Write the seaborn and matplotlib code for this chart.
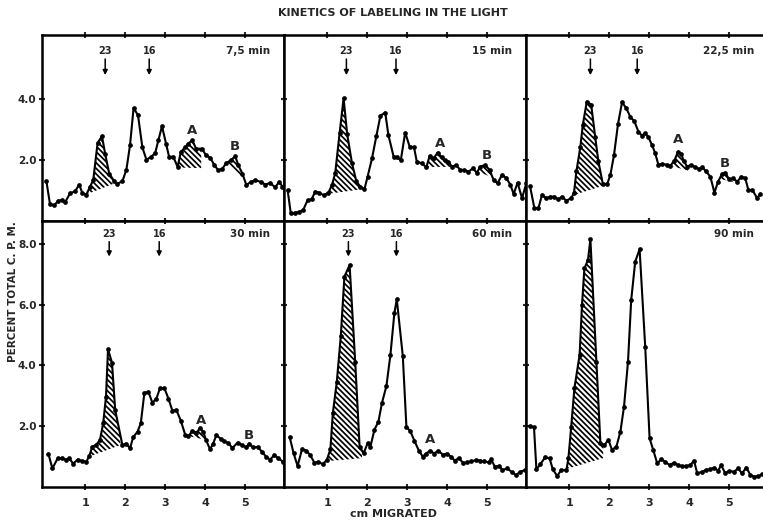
import numpy as np
import pandas as pd
import matplotlib
matplotlib.use("Agg")
import matplotlib.pyplot as plt
import seaborn as sns

# ---------------- data (cm migrated, percent total c.p.m.) ----------------
x_7_5 = [0.03, 0.12, 0.22, 0.33, 0.41, 0.50, 0.62, 0.75, 0.85, 0.93, 1.03, 1.12, 1.20, 1.31, 1.42,
         1.50, 1.60, 1.73, 1.80, 1.93, 2.03, 2.12, 2.21, 2.32, 2.43, 2.53, 2.64, 2.75, 2.83, 2.92,
         3.02, 3.10, 3.20, 3.31, 3.39, 3.50, 3.58, 3.68, 3.77, 3.92, 4.02, 4.13, 4.23, 4.33, 4.43,
         4.52, 4.64, 4.75, 4.83, 4.93, 5.03, 5.14, 5.25, 5.39, 5.50, 5.62, 5.75, 5.85, 5.93]
y_7_5 = [1.31, 0.55, 0.52, 0.66, 0.69, 0.62, 0.91, 0.98, 1.20, 0.91, 0.87, 1.13, 1.34, 2.57, 2.79,
         2.20, 1.56, 1.30, 1.22, 1.31, 1.69, 2.49, 3.72, 3.48, 2.42, 2.02, 2.10, 2.24, 2.66, 3.12,
         2.55, 2.10, 2.12, 1.78, 2.27, 2.43, 2.55, 2.66, 2.38, 2.38, 2.16, 2.08, 1.83, 1.67, 1.72,
         1.90, 2.00, 2.13, 1.83, 1.56, 1.18, 1.29, 1.34, 1.29, 1.20, 1.25, 1.11, 1.29, 1.13]

x_15 = [0.01, 0.09, 0.19, 0.29, 0.40, 0.51, 0.61, 0.70, 0.80, 0.91, 1.03, 1.12, 1.20, 1.31, 1.41,
        1.50, 1.62, 1.73, 1.83, 1.93, 2.01, 2.12, 2.23, 2.33, 2.45, 2.53, 2.66, 2.74, 2.84, 2.95,
        3.06, 3.17, 3.24, 3.36, 3.48, 3.56, 3.66, 3.76, 3.86, 3.94, 4.03, 4.12, 4.22, 4.33, 4.43,
        4.53, 4.64, 4.74, 4.83, 4.95, 5.06, 5.16, 5.26, 5.37, 5.48, 5.58, 5.66, 5.76, 5.87, 5.98]
y_15 = [1.02, 0.25, 0.27, 0.30, 0.36, 0.69, 0.71, 0.97, 0.93, 0.85, 0.93, 1.19, 1.57, 2.89, 4.04,
        2.85, 1.90, 1.30, 1.13, 1.04, 1.46, 2.06, 2.80, 3.46, 3.57, 2.83, 2.12, 2.10, 2.00, 2.91,
        2.45, 2.43, 1.95, 1.90, 1.77, 2.14, 2.06, 2.25, 2.10, 2.01, 1.95, 1.79, 1.84, 1.68, 1.68,
        1.62, 1.73, 1.59, 1.79, 1.84, 1.68, 1.35, 1.24, 1.52, 1.41, 1.19, 0.89, 1.26, 0.75, 1.25]

x_22_5 = [0.02, 0.13, 0.23, 0.32, 0.42, 0.53, 0.62, 0.72, 0.82, 0.93, 1.05, 1.12, 1.18, 1.28, 1.34,
          1.44, 1.55, 1.65, 1.73, 1.84, 1.95, 2.03, 2.12, 2.22, 2.32, 2.42, 2.53, 2.63, 2.73, 2.82,
          2.90, 2.98, 3.07, 3.15, 3.23, 3.33, 3.44, 3.52, 3.63, 3.72, 3.80, 3.87, 3.95, 4.05, 4.15,
          4.25, 4.33, 4.42, 4.53, 4.63, 4.72, 4.82, 4.90, 5.00, 5.10, 5.20, 5.30, 5.40, 5.48, 5.58,
          5.70, 5.78]
y_22_5 = [1.15, 0.42, 0.42, 0.86, 0.75, 0.80, 0.80, 0.71, 0.80, 0.67, 0.75, 0.93, 1.63, 2.45, 3.16,
          3.93, 3.83, 2.76, 1.96, 1.22, 1.22, 1.52, 2.17, 3.19, 3.90, 3.73, 3.42, 3.28, 2.94, 2.81,
          2.89, 2.76, 2.50, 2.23, 1.85, 1.88, 1.85, 1.80, 1.99, 2.28, 2.20, 1.96, 1.79, 1.85, 1.77,
          1.71, 1.77, 1.63, 1.46, 0.93, 1.29, 1.55, 1.59, 1.37, 1.41, 1.29, 1.46, 1.41, 1.02, 1.02,
          0.75, 0.90]

x_30 = [0.08, 0.18, 0.31, 0.42, 0.52, 0.60, 0.70, 0.81, 0.92, 1.03, 1.10, 1.18, 1.27, 1.37, 1.45,
        1.52, 1.57, 1.67, 1.75, 1.93, 2.03, 2.12, 2.20, 2.31, 2.39, 2.48, 2.58, 2.68, 2.78, 2.87,
        2.98, 3.08, 3.18, 3.28, 3.39, 3.50, 3.58, 3.68, 3.78, 3.87, 3.95, 4.02, 4.12, 4.20, 4.28,
        4.39, 4.47, 4.58, 4.68, 4.81, 4.92, 5.03, 5.10, 5.20, 5.31, 5.42, 5.52, 5.62, 5.73, 5.83,
        5.95]
y_30 = [1.09, 0.61, 0.94, 0.94, 0.90, 0.94, 0.77, 0.90, 0.86, 0.83, 1.02, 1.33, 1.38, 1.55, 2.10,
        2.97, 4.53, 4.09, 2.53, 1.38, 1.43, 1.27, 1.64, 1.82, 2.10, 3.10, 3.13, 2.77, 2.91, 3.25,
        3.25, 2.91, 2.51, 2.53, 2.18, 1.72, 1.67, 1.85, 1.79, 1.93, 1.82, 1.55, 1.24, 1.43, 1.71,
        1.58, 1.50, 1.45, 1.28, 1.46, 1.38, 1.30, 1.43, 1.30, 1.32, 1.16, 1.00, 0.90, 1.05, 0.94,
        0.83]

x_60 = [0.06, 0.16, 0.26, 0.37, 0.47, 0.57, 0.68, 0.78, 0.89, 0.99, 1.08, 1.14, 1.24, 1.34, 1.43,
        1.56, 1.70, 1.81, 1.91, 2.01, 2.08, 2.18, 2.28, 2.37, 2.48, 2.58, 2.68, 2.74, 2.89, 2.98,
        3.08, 3.18, 3.29, 3.39, 3.47, 3.58, 3.67, 3.78, 3.89, 3.99, 4.09, 4.19, 4.29, 4.40, 4.50,
        4.60, 4.73, 4.83, 4.93, 5.04, 5.10, 5.19, 5.30, 5.38, 5.50, 5.61, 5.72, 5.82, 5.95]
y_60 = [1.65, 1.11, 0.69, 1.24, 1.20, 1.06, 0.80, 0.83, 0.75, 0.89, 1.24, 2.42, 3.46, 4.97, 6.92,
        7.30, 4.12, 1.33, 1.11, 1.44, 1.32, 1.88, 2.15, 2.77, 3.32, 4.34, 5.73, 6.17, 4.31, 1.98,
        1.83, 1.52, 1.20, 1.00, 1.10, 1.20, 1.10, 1.20, 1.06, 1.10, 1.00, 0.87, 0.95, 0.79, 0.81,
        0.84, 0.89, 0.87, 0.84, 0.81, 0.91, 0.67, 0.69, 0.56, 0.61, 0.50, 0.39, 0.50, 0.56]

x_90 = [0.03, 0.12, 0.18, 0.28, 0.40, 0.51, 0.59, 0.70, 0.80, 0.93, 0.98, 1.05, 1.13, 1.26, 1.32,
        1.38, 1.47, 1.53, 1.68, 1.78, 1.88, 1.98, 2.07, 2.18, 2.28, 2.37, 2.47, 2.55, 2.65, 2.76,
        2.90, 3.01, 3.10, 3.20, 3.30, 3.40, 3.51, 3.62, 3.72, 3.82, 3.93, 4.03, 4.12, 4.20, 4.32,
        4.42, 4.53, 4.63, 4.72, 4.80, 4.90, 5.00, 5.12, 5.22, 5.32, 5.43, 5.53, 5.63, 5.73, 5.83]
y_90 = [2.00, 1.96, 0.58, 0.75, 0.98, 0.94, 0.58, 0.36, 0.56, 0.56, 0.94, 1.98, 3.25, 4.34, 5.99,
        7.19, 7.47, 8.15, 4.12, 1.44, 1.38, 1.55, 1.22, 1.33, 1.82, 2.64, 4.12, 6.15, 7.41, 7.82,
        4.62, 1.60, 1.22, 0.78, 0.91, 0.83, 0.72, 0.80, 0.72, 0.69, 0.69, 0.72, 0.87, 0.45, 0.50,
        0.56, 0.58, 0.64, 0.53, 0.72, 0.45, 0.53, 0.50, 0.61, 0.45, 0.64, 0.39, 0.34, 0.36, 0.42]

panel_labels = ["7,5 min", "15 min", "22,5 min", "30 min", "60 min", "90 min"]
x_ticks = [1, 2, 3, 4, 5]
y_ticks_top = [2.0, 4.0]
y_ticks_bottom = [2.0, 4.0, 6.0, 8.0]

# shaded regions: (x start, baseline start, x end, baseline end)
shade_7_5 = [(1.08, 0.90, 1.85, 1.30), (3.31, 1.76, 3.90, 1.74), (4.50, 1.90, 4.98, 1.38)]
shade_15 = [(1.05, 0.90, 1.90, 1.05), (3.46, 1.78, 4.12, 1.78), (4.78, 1.62, 5.10, 1.45)]
shade_22_5 = [(1.10, 0.85, 1.95, 1.20), (3.58, 1.80, 3.97, 1.66), (4.72, 1.40, 5.20, 1.25)]
shade_30 = [(1.10, 1.00, 1.88, 1.38), (3.50, 1.70, 4.02, 1.55), (4.85, 1.38, 5.25, 1.25)]
shade_60 = [(0.99, 0.85, 1.87, 0.95)]
shade_90 = [(0.95, 0.60, 1.85, 0.95)]

# marker arrows ("23" and "16") positions in cm
arrows_7_5 = [1.50, 2.60]
arrows_15 = [1.48, 2.72]
arrows_22_5 = [1.53, 2.70]
arrows_30 = [1.60, 2.85]
arrows_60 = [1.53, 2.73]
arrows_90 = []
arrow_names = ["23", "16"]

# A / B annotations: (letter, x, y)
ab_7_5 = [("A", 3.68, 2.98), ("B", 4.73, 2.45)]
ab_15 = [("A", 3.81, 2.56), ("B", 4.99, 2.14)]
ab_22_5 = [("A", 3.72, 2.67), ("B", 4.90, 1.90)]
ab_30 = [("A", 3.89, 2.20), ("B", 5.10, 1.71)]
ab_60 = [("A", 3.58, 1.55)]
ab_90 = []

# ---------------- style ----------------
sns.set_style("ticks")
plt.rcParams["font.family"] = ["Liberation Sans Narrow", "DejaVu Sans"]
plt.rcParams["font.weight"] = "bold"
plt.rcParams["hatch.linewidth"] = 1.25
plt.rcParams["hatch.color"] = "black"

W, H = 763, 522
fig = plt.figure(figsize=(W / 100, H / 100), dpi=100)
fig.patch.set_facecolor("white")

col_left = [42, 284, 526]
col_w = 242
rows = [(35, 221), (221, 487)]

panels = [
    (0, 0, x_7_5, y_7_5, panel_labels[0], shade_7_5, arrows_7_5, ab_7_5),
    (0, 1, x_15, y_15, panel_labels[1], shade_15, arrows_15, ab_15),
    (0, 2, x_22_5, y_22_5, panel_labels[2], shade_22_5, arrows_22_5, ab_22_5),
    (1, 0, x_30, y_30, panel_labels[3], shade_30, arrows_30, ab_30),
    (1, 1, x_60, y_60, panel_labels[4], shade_60, arrows_60, ab_60),
    (1, 2, x_90, y_90, panel_labels[5], shade_90, arrows_90, ab_90),
]

for r, c, xs, ys, lab, shades, arrs, abs_ in panels:
    top, bot = rows[r]
    l = col_left[c]
    ax = fig.add_axes([l / W, 1 - bot / H, col_w / W, (bot - top) / H])
    ax.set_facecolor("white")
    ymax = 6.12 if r == 0 else 8.75
    ax.set_xlim(-0.08, 5.97)
    ax.set_ylim(0, ymax)

    # hatched peaks
    for x0, b0, x1, b1 in shades:
        gx = np.linspace(x0, x1, 300)
        cy = np.interp(gx, xs, ys)
        by = np.interp(gx, [x0, x1], [b0, b1])
        ax.fill_between(gx, by, cy, where=cy >= by, interpolate=True,
                        facecolor="white", edgecolor="black", hatch="\\" * 6,
                        linewidth=0, zorder=1)

    df = pd.DataFrame({"cm": xs, "cpm": ys})
    sns.lineplot(data=df, x="cm", y="cpm", ax=ax, color="black", linewidth=1.5,
                 marker="o", markersize=3.4, markeredgewidth=0, estimator=None,
                 sort=False, legend=False, zorder=3)

    # arrows
    if r == 0:
        ty, a0, a1 = 5.58, 5.33, 4.80
    else:
        ty, a0, a1 = 8.32, 8.07, 7.58
    for xa, nm in zip(arrs, arrow_names):
        ax.text(xa, ty, nm, ha="center", va="center", fontsize=7, fontweight="bold")
        ax.annotate("", xy=(xa, a1), xytext=(xa, a0),
                    arrowprops=dict(arrowstyle="-|>", color="black", lw=1.1,
                                    mutation_scale=7, shrinkA=0, shrinkB=0))
    for letter, xl, yl in abs_:
        ax.text(xl, yl, letter, ha="center", va="center", fontsize=9.5, fontweight="bold")

    ax.text(5.62, ty, lab, ha="right", va="center", fontsize=7.5, fontweight="bold")

    ax.set_xticks(x_ticks)
    ax.set_yticks(y_ticks_top if r == 0 else y_ticks_bottom)
    ax.tick_params(direction="inout", length=4, width=1.5, top=True, right=True,
                   labelsize=8, pad=2)
    if c == 0:
        ax.set_yticklabels([f"{v:.1f}" for v in (y_ticks_top if r == 0 else y_ticks_bottom)],
                           fontweight="bold", fontsize=7.5)
    else:
        ax.set_yticklabels([])
    if r == 1:
        ax.set_xticklabels([str(v) for v in x_ticks], fontweight="bold", fontsize=8)
        ax.tick_params(axis="x", pad=6)
    else:
        ax.set_xticklabels([])
    ax.set_xlabel("")
    ax.set_ylabel("")
    for s in ax.spines.values():
        s.set_linewidth(1.8)
        s.set_color("black")
        s.set_visible(True)

fig.text(393 / W, 1 - 13 / H, "KINETICS OF LABELING IN THE LIGHT", ha="center", va="center",
         fontsize=8, fontweight="bold")
fig.text(13 / W, 1 - 292 / H, "PERCENT TOTAL C. P. M.", ha="center", va="center",
         rotation=90, fontsize=7.5, fontweight="bold")
fig.text(393 / W, 1 - 514 / H, "cm MIGRATED", ha="center", va="center",
         fontsize=8, fontweight="bold")

fig.savefig("out.png", dpi=100, facecolor="white")
